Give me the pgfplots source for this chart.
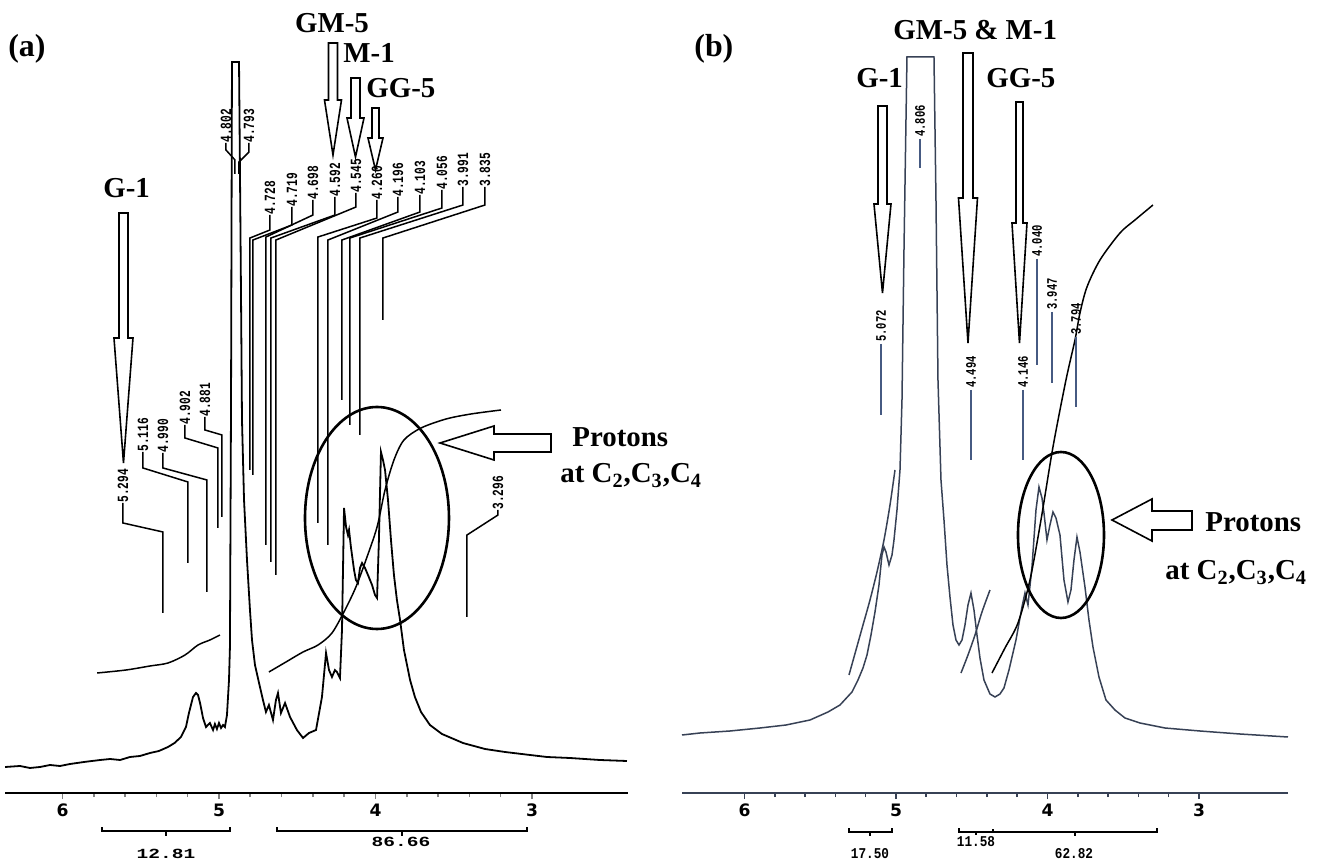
\documentclass[border=0pt]{standalone}
\usepackage{pgfplots}
\pgfplotsset{compat=1.18}
\usepackage{fontspec}
\setmainfont{Liberation Serif}
\newfontfamily\labfont{Liberation Mono}[FakeStretch=0.72]
\newfontfamily\intAfont{Liberation Mono}[FakeStretch=1.4]
\newfontfamily\intBfont{Liberation Mono}[FakeStretch=0.85]
\newfontfamily\tickfont{DejaVu Sans}
\definecolor{bline}{RGB}{55,65,85}
\definecolor{blead}{RGB}{70,90,130}
% pixel -> axis coordinate helpers (annotations only)
\newcommand\A[2]{(axis cs:{6.3994-0.00639*(#1)},{793-(#2)})}
\newcommand\B[2]{(axis cs:{10.9142-0.0066007*(#1)},{793-(#2)})}
\newcommand\labA{\labfont\bfseries\fontsize{7.8}{8}\selectfont}
\newcommand\labB{\labfont\bfseries\fontsize{7.3}{8}\selectfont}
\newcommand\ann{\bfseries\fontsize{14.5}{17}\selectfont}
\newcommand\LeadA[7]{%
  \path \A{#2}{#3} node[rotate=90,anchor=west,inner sep=0pt,font=\labA] {#1};
  \draw[line width=0.75bp] \A{#2}{#3} -- \A{#2}{#4} -- \A{#5}{#6} -- \A{#5}{#7};}
\newcommand\LeadB[4]{%
  \path \B{#2}{#3} node[rotate=90,anchor=west,inner sep=0pt,font=\labB] {#1};
  \draw[line width=0.7bp,blead] \B{#2}{#3+2} -- \B{#2}{#4};}
\newcommand\DArrA[6]{%
  \draw[fill=white,line width=0.8bp] \A{#1-#2}{#4} -- \A{#1+#2}{#4} -- \A{#1+#2}{#5} -- \A{#1+#3}{#5} -- \A{#1}{#6} -- \A{#1-#3}{#5} -- \A{#1-#2}{#5} -- cycle;}
\newcommand\DArrB[6]{%
  \draw[fill=white,line width=0.8bp] \B{#1-#2}{#4} -- \B{#1+#2}{#4} -- \B{#1+#2}{#5} -- \B{#1+#3}{#5} -- \B{#1}{#6} -- \B{#1-#3}{#5} -- \B{#1-#2}{#5} -- cycle;}
\pgfplotsset{nmr/.style={
  scale only axis, clip=false, x dir=reverse,
  axis x line*=bottom, hide y axis,
  ymin=0, ymax=793, height=396.5bp, anchor=south west,
  xtick={3,4,5,6}, minor x tick num=4,
  tick align=outside, major tick length=3bp, minor tick length=2bp,
  x axis line style={line width=1bp},
  tick style={line width=0.8bp},
  /pgf/number format/assume math mode=true,
  xticklabel style={font=\tickfont\bfseries\fontsize{8.6}{9}\selectfont, inner sep=0pt, yshift=-2.3bp},
}}
\begin{document}
\begin{tikzpicture}
\path[use as bounding box] (0,0) rectangle (659.5bp,432bp);
% ---------------- panel (a) ----------------
\begin{axis}[nmr, at={(2.5bp,35.5bp)}, width=311.5bp, xmin=2.3865, xmax=6.3674]
\addplot[black, line width=0.9bp] coordinates {
(6.367,26) (6.272,27) (6.208,25) (6.144,26) (6.080,28) (6.016,27) (5.952,29) (5.863,31)
(5.760,33) (5.696,34) (5.632,33) (5.569,36) (5.505,37) (5.441,40) (5.384,42) (5.326,46)
(5.284,50) (5.243,56) (5.211,66) (5.192,80) (5.166,96) (5.147,100) (5.134,98) (5.121,90)
(5.102,75) (5.083,66) (5.058,70) (5.038,63) (5.026,69) (5.013,64) (5.000,70) (4.987,65)
(4.974,68) (4.962,66) (4.949,78) (4.936,113) (4.930,146) (4.923,393) (4.917,731) (4.872,731)
(4.866,623) (4.859,493) (4.853,373) (4.840,293) (4.821,233) (4.802,183) (4.789,153) (4.770,128)
(4.744,110) (4.719,93) (4.700,81) (4.681,88) (4.655,73) (4.636,93) (4.623,100) (4.604,80)
(4.578,90) (4.546,76) (4.502,63) (4.463,55) (4.425,60) (4.380,63) (4.342,96) (4.316,140)
(4.297,123) (4.278,116) (4.259,123) (4.246,121) (4.227,115) (4.214,163) (4.201,285) (4.188,266)
(4.176,258) (4.169,263) (4.157,246) (4.137,223) (4.125,213) (4.112,210) (4.099,225) (4.086,230)
(4.067,225) (4.048,218) (4.022,208) (4.003,198) (3.990,195) (3.978,253) (3.965,341) (3.952,333)
(3.939,323) (3.920,293) (3.901,253) (3.882,218) (3.863,193) (3.843,173) (3.818,143) (3.779,113)
(3.748,96) (3.709,81) (3.652,68) (3.575,59) (3.441,50) (3.300,44) (3.172,41) (3.012,38)
(2.904,36) (2.757,35) (2.566,33) (2.393,32)};
\addplot[black, line width=0.75bp, smooth, tension=0.5] coordinates {
(5.779,120) (5.594,123) (5.441,127) (5.326,130) (5.217,138) (5.134,148) (5.058,153) (4.994,158)};
\addplot[black, line width=0.75bp, smooth, tension=0.5] coordinates {
(4.681,121) (4.572,131) (4.463,141) (4.367,148) (4.278,160) (4.195,183) (4.125,206) (4.061,233)
(3.990,266) (3.939,303) (3.882,333) (3.818,353) (3.709,365) (3.549,374) (3.390,379) (3.198,383)};
% peak labels
\LeadA{5.294}{123}{503}{523}{163}{532}{613}
\LeadA{5.116}{143}{452}{468}{188}{482}{563}
\LeadA{4.990}{163}{453}{468}{207}{480}{592}
\LeadA{4.902}{185}{425}{438}{218}{448}{528}
\LeadA{4.881}{205}{417}{430}{222}{435}{517}
\LeadA{4.728}{270}{215}{230}{250}{238}{470}
\LeadA{4.719}{292}{207}{225}{253}{240}{475}
\LeadA{4.698}{313}{200}{215}{266}{237}{545}
\LeadA{4.592}{335}{197}{215}{271}{238}{562}
\LeadA{4.545}{356}{193}{207}{276}{240}{575}
\LeadA{4.260}{377}{200}{218}{318}{237}{523}
\LeadA{4.196}{398}{197}{212}{328}{240}{545}
\LeadA{4.103}{420}{195}{212}{342}{240}{400}
\LeadA{4.056}{442}{190}{208}{350}{238}{425}
\LeadA{3.991}{463}{187}{205}{360}{238}{435}
\LeadA{3.835}{485}{187}{205}{383}{238}{320}
\LeadA{3.296}{498}{510}{515}{467}{535}{617}
\path \A{226}{143} node[rotate=90,anchor=west,inner sep=0pt,font=\labA] {4.802};
\path \A{249}{143} node[rotate=90,anchor=west,inner sep=0pt,font=\labA] {4.793};
\draw[line width=0.75bp] \A{226}{143} -- \A{226}{150} -- \A{235}{160} -- \A{235}{174};
\draw[line width=0.75bp] \A{249}{143} -- \A{249}{152} -- \A{239}{162} -- \A{239}{174};
% arrows
\DArrA{123.5}{4.5}{9.5}{213}{338}{463}
\DArrA{333}{4.5}{8.5}{43}{100}{155}
\DArrA{355.5}{4.5}{8.5}{78}{118}{157}
\DArrA{375.5}{3.5}{7.5}{108}{138}{170}
\draw[fill=white,line width=0.8bp] \A{440}{443} -- \A{494}{426} -- \A{494}{434} -- \A{551}{434} -- \A{551}{452} -- \A{494}{452} -- \A{494}{460} -- cycle;
\draw[line width=1.3bp] \A{377}{518} ellipse [x radius=36bp, y radius=55.5bp];
% texts
\path \A{8}{57} node[anchor=base west,inner sep=0pt,font=\bfseries\fontsize{16}{18}\selectfont] {(a)};
\path \A{332}{33} node[anchor=base,inner sep=0pt,font=\ann] {GM-5};
\path \A{343}{63} node[anchor=base west,inner sep=0pt,font=\ann] {M-1};
\path \A{366}{98} node[anchor=base west,inner sep=0pt,font=\ann] {GG-5};
\path \A{103}{198} node[anchor=base west,inner sep=0pt,font=\ann] {G-1};
\path \A{572}{447} node[anchor=base west,inner sep=0pt,font=\ann] {Protons};
\path \A{560}{483} node[anchor=base west,inner sep=0pt,font=\ann] {at C\textsubscript{2},C\textsubscript{3},C\textsubscript{4}};
% integration brackets
\draw[line width=0.7bp] \A{102}{827} -- \A{102}{831} -- \A{230}{831} -- \A{230}{827};
\draw[line width=0.7bp] \A{166}{831} -- \A{166}{836};
\draw[line width=0.7bp] \A{277}{827} -- \A{277}{831} -- \A{527}{831} -- \A{527}{827};
\draw[line width=0.7bp] \A{402}{831} -- \A{402}{836};
\path \A{166}{858} node[anchor=base,inner sep=0pt,font=\intAfont\bfseries\fontsize{7}{8}\selectfont] {12.81};
\path \A{401}{847} node[anchor=base,inner sep=0pt,font=\intAfont\bfseries\fontsize{7}{8}\selectfont] {86.66};
\end{axis}
% ---------------- panel (b) ----------------
\begin{axis}[nmr, at={(341bp,35.5bp)}, width=303bp, xmin=2.4125, xmax=6.4125,
  x axis line style={line width=1bp,bline}, tick style={line width=0.8bp,bline}]
\addplot[bline, line width=0.75bp] coordinates {
(6.4125,58) (6.2937,60) (6.0957,62) (5.8977,65) (5.7260,68) (5.5676,73) (5.4488,81) (5.3696,88)
(5.2904,101) (5.2508,113) (5.2178,125) (5.1914,138) (5.1650,158) (5.1386,181) (5.1122,208) (5.0924,238)
(5.0792,246) (5.0660,241) (5.0462,228) (5.0264,238) (5.0132,253) (4.9934,283) (4.9736,323) (4.9604,393)
(4.9472,543) (4.9340,673) (4.9274,736) (4.7492,736) (4.7360,593) (4.7228,413) (4.7030,313) (4.6832,273)
(4.6634,228) (4.6436,196) (4.6238,168) (4.6040,153) (4.5842,148) (4.5644,153) (4.5446,168) (4.5248,188)
(4.5050,200) (4.4852,183) (4.4654,158) (4.4456,135) (4.4192,113) (4.3796,99) (4.3466,96) (4.3136,99)
(4.2872,105) (4.2542,123) (4.2080,153) (4.1684,186) (4.1486,200) (4.1288,188) (4.1024,226) (4.0760,283)
(4.0562,306) (4.0364,295) (4.0232,280) (4.0034,253) (3.9836,268) (3.9638,281) (3.9440,275) (3.9176,258)
(3.8912,213) (3.8648,191) (3.8450,203) (3.8252,233) (3.8054,256) (3.7856,241) (3.7526,206) (3.7262,173)
(3.6998,146) (3.6602,116) (3.6140,93) (3.5546,83) (3.4886,75) (3.3896,70) (3.2246,65) (2.9936,62)
(2.7296,59) (2.4125,56)};
\addplot[bline, line width=0.75bp, smooth, tension=0.5] coordinates {
(5.3102,118) (5.2640,143) (5.2178,168) (5.1716,193) (5.1254,221) (5.0792,253) (5.0396,288) (5.0066,323)};
\addplot[bline, line width=0.75bp, smooth, tension=0.5] coordinates {
(4.5710,120) (4.5248,138) (4.4786,158) (4.4324,181) (4.3796,203)};
\addplot[black, line width=0.75bp, smooth, tension=0.5] coordinates {
(4.3664,120) (4.2806,145) (4.1948,170) (4.1156,213) (4.0430,273) (3.9638,346) (3.8780,413) (3.8186,453)
(3.7856,480) (3.7394,506) (3.6536,533) (3.5216,560) (3.4226,573) (3.3038,588)};
% peak labels
\LeadB{5.072}{881}{342}{415}
\LeadB{4.806}{920}{137}{168}
\LeadB{4.494}{971}{388}{460}
\LeadB{4.146}{1023}{388}{460}
\LeadB{4.040}{1037}{257}{365}
\LeadB{3.947}{1052}{310}{383}
\LeadB{3.794}{1076}{335}{407}
% arrows
\DArrB{882.5}{4.5}{8.5}{106}{204}{293}
\DArrB{968}{5}{9.5}{53}{198}{343}
\DArrB{1019.5}{3.5}{7.5}{102}{223}{343}
\draw[fill=white,line width=0.8bp] \B{1112}{520} -- \B{1152}{499} -- \B{1152}{511} -- \B{1192}{511} -- \B{1192}{530} -- \B{1152}{530} -- \B{1152}{541} -- cycle;
\draw[line width=1.3bp] \B{1061}{535} ellipse [x radius=21.5bp, y radius=41.5bp];
% texts
\path \B{694}{57} node[anchor=base west,inner sep=0pt,font=\bfseries\fontsize{16}{18}\selectfont] {(b)};
\path \B{893}{40} node[anchor=base west,inner sep=0pt,font=\ann] {GM-5 \& M-1};
\path \B{856}{88} node[anchor=base west,inner sep=0pt,font=\ann] {G-1};
\path \B{986}{88} node[anchor=base west,inner sep=0pt,font=\ann] {GG-5};
\path \B{1205}{532} node[anchor=base west,inner sep=0pt,font=\ann] {Protons};
\path \B{1165}{580} node[anchor=base west,inner sep=0pt,font=\ann] {at C\textsubscript{2},C\textsubscript{3},C\textsubscript{4}};
% integration brackets
\draw[line width=0.7bp] \B{849}{828} -- \B{849}{832} -- \B{892}{832} -- \B{892}{828};
\draw[line width=0.7bp] \B{870}{832} -- \B{870}{836};
\draw[line width=0.7bp] \B{959}{828} -- \B{959}{832} -- \B{1157}{832} -- \B{1157}{828};
\draw[line width=0.7bp] \B{993}{829} -- \B{993}{832};
\draw[line width=0.7bp] \B{976}{832} -- \B{976}{835};
\draw[line width=0.7bp] \B{1075}{832} -- \B{1075}{836};
\path \B{870}{858} node[anchor=base,inner sep=0pt,font=\intBfont\bfseries\fontsize{7.5}{8}\selectfont] {17.50};
\path \B{976}{847} node[anchor=base,inner sep=0pt,font=\intBfont\bfseries\fontsize{7.5}{8}\selectfont] {11.58};
\path \B{1074}{858} node[anchor=base,inner sep=0pt,font=\intBfont\bfseries\fontsize{7.5}{8}\selectfont] {62.82};
\end{axis}
\end{tikzpicture}
\end{document}
